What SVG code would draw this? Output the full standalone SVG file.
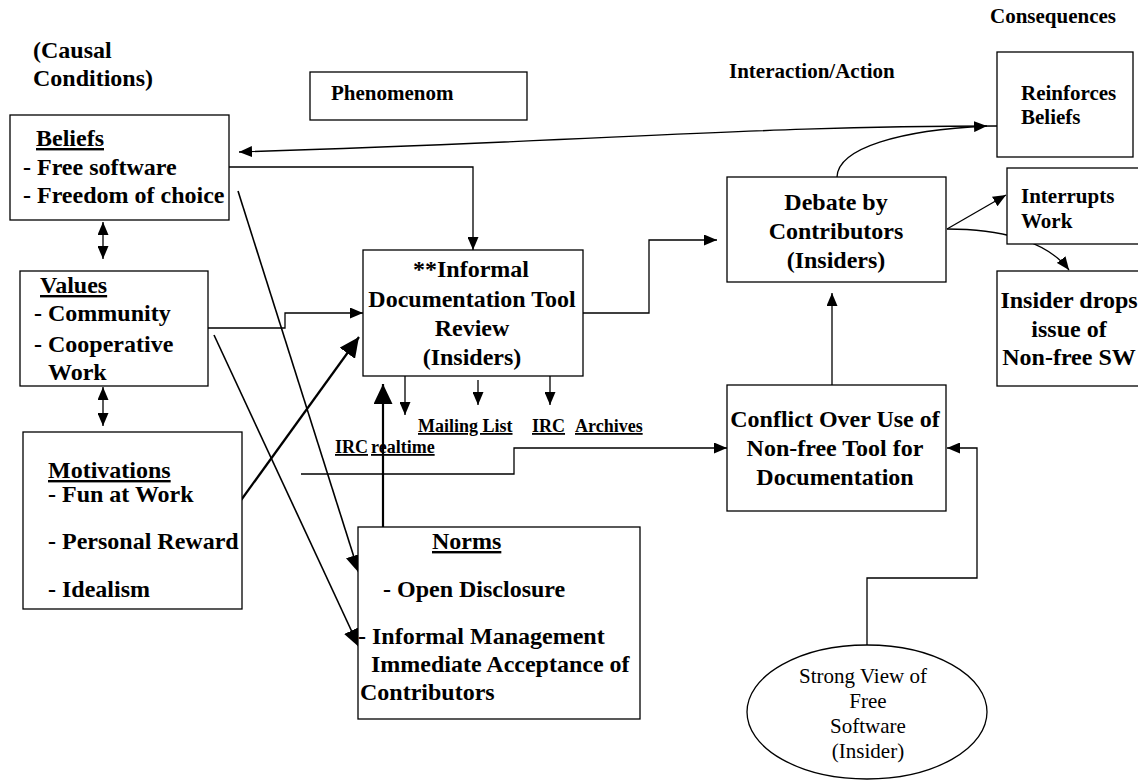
<svg xmlns="http://www.w3.org/2000/svg" width="1138" height="780" viewBox="0 0 1138 780">
  <style>
    .box { fill: #fff; stroke: #000; stroke-width: 1.3; }
    .ln { fill: none; stroke: #000; stroke-width: 1.3; }
    .thk { fill: none; stroke: #000; stroke-width: 2.2; }
    .med { fill: none; stroke: #000; stroke-width: 1.6; }
    text { font-family: "Liberation Serif", "Times New Roman", serif; fill: #000; }
    .b24 { font-size: 24px; font-weight: bold; }
    .b21 { font-size: 21px; font-weight: bold; }
    .b18 { font-size: 18px; font-weight: bold; }
    .r21 { font-size: 21px; }
    .u { text-decoration: underline; }
    .mid { text-anchor: middle; }
  </style>
  <defs>
    <marker id="arr" markerUnits="userSpaceOnUse" markerWidth="13" markerHeight="11" refX="13" refY="5.5" orient="auto-start-reverse">
      <path d="M0,0 L13,5.5 L0,11 z" fill="#000"/>
    </marker>
    <marker id="arrM" markerUnits="userSpaceOnUse" markerWidth="18" markerHeight="16" refX="18" refY="8" orient="auto">
      <path d="M0,0 L18,8 L0,16 z" fill="#000"/>
    </marker>
    <marker id="arrL" markerUnits="userSpaceOnUse" markerWidth="20" markerHeight="19" refX="20" refY="9.5" orient="auto">
      <path d="M0,0 L20,9.5 L0,19 z" fill="#000"/>
    </marker>
  </defs>

  <!-- column headings -->
  <g id="headings">
    <text class="b24" x="33" y="58">(Causal</text>
    <text class="b24" x="33" y="86">Conditions)</text>
    <text class="b21" x="729" y="78">Interaction/Action</text>
    <text class="b21" x="990" y="23">Consequences</text>
  </g>

  <!-- connectors -->
  <g id="connectors">
    <path class="ln" d="M997,126 C760,126 620,140 239,152" marker-end="url(#arr)"/>
    <path class="ln" d="M837,177 C838,148 900,130 987,126" marker-end="url(#arr)"/>
    <path class="ln" d="M229,167 H473 V250" marker-end="url(#arr)"/>
    <path class="ln" d="M208,328 H285 V313 H363" marker-end="url(#arr)"/>
    <path class="ln" d="M583,313 H649 V240 H717" marker-end="url(#arr)"/>
    <path class="ln" d="M832,385 V293" marker-end="url(#arr)"/>
    <path class="ln" d="M301,474 H514 V448 H727" marker-end="url(#arr)"/>
    <path class="ln" d="M867,645 V578 H977 V448 H947" marker-end="url(#arr)"/>
    <path class="ln" d="M947,229 L1006,195" marker-end="url(#arr)"/>
    <path class="ln" d="M947,229 C1010,229 1050,245 1069,270" marker-end="url(#arr)"/>
    <path class="ln" d="M103,222 V259" marker-start="url(#arr)" marker-end="url(#arr)"/>
    <path class="ln" d="M103,387 V426" marker-start="url(#arr)" marker-end="url(#arr)"/>
    <path class="ln" d="M405,376 V415" marker-end="url(#arr)"/>
    <path class="ln" d="M478,380 V405" marker-end="url(#arr)"/>
    <path class="ln" d="M550,376 V405" marker-end="url(#arr)"/>
    <path class="thk" d="M239,503 L359,337" marker-end="url(#arrL)"/>
    <path class="thk" d="M383,527 V384" marker-end="url(#arrL)"/>
    <path class="med" d="M238,191 L359,573" marker-end="url(#arrM)"/>
    <path class="med" d="M214,335 L359,647" marker-end="url(#arrM)"/>
  </g>

  <!-- channel labels under the review box -->
  <g id="channels">
    <text class="b18 u" x="418" y="432">Mailing List</text>
    <text class="b18 u" x="532" y="432">IRC</text>
    <text class="b18 u" x="575" y="432">Archives</text>
    <text class="b18 u" x="335" y="453">IRC</text>
    <text class="b18 u" x="371" y="453">realtime</text>
  </g>

  <g id="phenomenon">
    <rect class="box" x="310" y="72" width="217" height="48"/>
    <text class="b21" x="331" y="100">Phenomenom</text>
  </g>

  <g id="beliefs">
    <rect class="box" x="10" y="115" width="219" height="105"/>
    <text class="b24 u" x="36" y="146">Beliefs</text>
    <text class="b24" x="23" y="175">- Free software</text>
    <text class="b24" x="23" y="203">- Freedom of choice</text>
  </g>

  <g id="values">
    <rect class="box" x="20" y="271" width="188" height="115"/>
    <text class="b24 u" x="40" y="293">Values</text>
    <text class="b24" x="34" y="321">- Community</text>
    <text class="b24" x="34" y="352">- Cooperative</text>
    <text class="b24" x="48" y="380">Work</text>
  </g>

  <g id="motivations">
    <rect class="box" x="23" y="432" width="219" height="177"/>
    <text class="b24 u" x="48" y="478">Motivations</text>
    <text class="b24" x="48" y="502">- Fun at Work</text>
    <text class="b24" x="48" y="549">- Personal Reward</text>
    <text class="b24" x="48" y="597">- Idealism</text>
  </g>

  <g id="review">
    <rect class="box" x="363" y="250" width="220" height="126"/>
    <text class="b24 mid" x="471" y="277">**Informal</text>
    <text class="b24 mid" x="472" y="307">Documentation Tool</text>
    <text class="b24 mid" x="472" y="336">Review</text>
    <text class="b24 mid" x="472" y="365">(Insiders)</text>
  </g>

  <g id="norms">
    <rect class="box" x="358" y="527" width="282" height="192"/>
    <text class="b24 u" x="432" y="549">Norms</text>
    <text class="b24" x="383" y="597">- Open Disclosure</text>
    <text class="b24" x="358" y="644">- Informal Management</text>
    <text class="b24" x="371" y="672">Immediate Acceptance of</text>
    <text class="b24" x="360" y="700">Contributors</text>
  </g>

  <g id="debate">
    <rect class="box" x="727" y="177" width="219" height="105"/>
    <text class="b24 mid" x="836" y="210">Debate by</text>
    <text class="b24 mid" x="836" y="239">Contributors</text>
    <text class="b24 mid" x="836" y="268">(Insiders)</text>
  </g>

  <g id="conflict">
    <rect class="box" x="727" y="385" width="219" height="126"/>
    <text class="b24 mid" x="835" y="427">Conflict Over Use of</text>
    <text class="b24 mid" x="835" y="456">Non-free Tool for</text>
    <text class="b24 mid" x="835" y="485">Documentation</text>
  </g>

  <g id="reinforces">
    <rect class="box" x="997" y="52" width="136" height="105"/>
    <text class="b21" x="1021" y="100">Reinforces</text>
    <text class="b21" x="1021" y="124">Beliefs</text>
  </g>

  <g id="interrupts">
    <rect class="box" x="1007" y="168" width="150" height="76"/>
    <text class="b21" x="1021" y="203">Interrupts</text>
    <text class="b21" x="1021" y="228">Work</text>
  </g>

  <g id="drops">
    <rect class="box" x="997" y="271" width="160" height="115"/>
    <text class="b24 mid" x="1069" y="308">Insider drops</text>
    <text class="b24 mid" x="1069" y="337">issue of</text>
    <text class="b24 mid" x="1069" y="365">Non-free SW</text>
  </g>

  <g id="strong-view">
    <ellipse class="box" cx="867" cy="712" rx="120" ry="67"/>
    <text class="r21 mid" x="863" y="683">Strong View of</text>
    <text class="r21 mid" x="868" y="708">Free</text>
    <text class="r21 mid" x="868" y="733">Software</text>
    <text class="r21 mid" x="868" y="758">(Insider)</text>
  </g>
</svg>
